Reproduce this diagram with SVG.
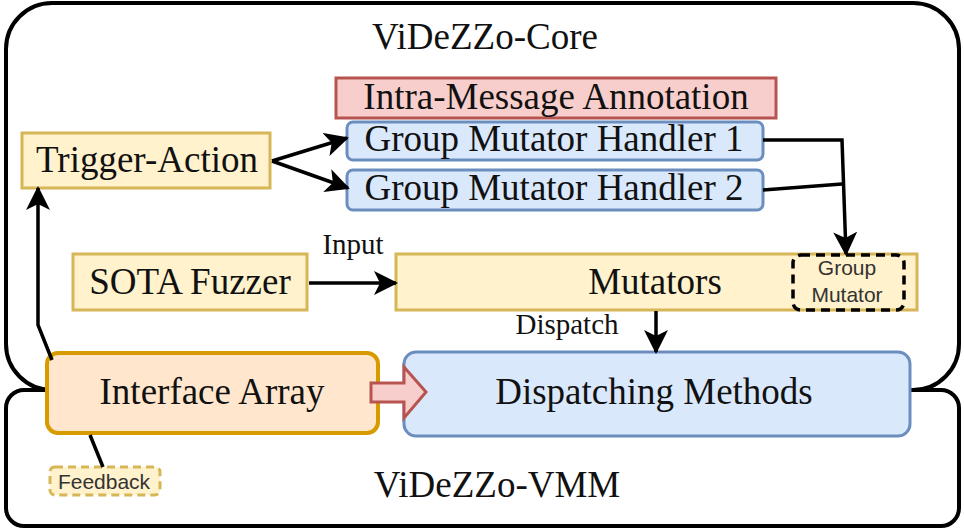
<svg xmlns="http://www.w3.org/2000/svg" width="964" height="530" viewBox="0 0 964 530">
  <style>
    .frame { fill: none; stroke: #000; stroke-width: 4; }
    .lbl { font-family: "Liberation Serif", "Times New Roman", serif; fill: #111; text-anchor: middle; }
    .big { font-size: 37px; }
    .small { font-size: 29px; }
    .sans { font-family: "Liberation Sans", Arial, sans-serif; font-size: 21px; fill: #333; text-anchor: middle; }
    .yellow { fill: #fff2cc; stroke: #d6b656; stroke-width: 3; }
    .blue { fill: #dae8fc; stroke: #6c8ebf; stroke-width: 3; }
    .red { fill: #f8cecc; stroke: #b85450; stroke-width: 3; }
    .orange { fill: #ffe6cc; stroke: #d79b00; stroke-width: 4; }
    .edge { fill: none; stroke: #000; stroke-width: 3.5; }
  </style>
  <defs>
    <marker id="head" viewBox="0 0 24 24" refX="22" refY="12" markerWidth="24" markerHeight="24" markerUnits="userSpaceOnUse" orient="auto">
      <path d="M0,0 L24,12 L0,24 L6,12 z" fill="#000"/>
    </marker>
  </defs>

  <rect width="964" height="530" fill="#fff"/>

  <!-- outer frames -->
  <g id="core-frame">
    <rect class="frame" x="6" y="3" width="953" height="387" rx="46"/>
    <text class="lbl big" x="485" y="49">ViDeZZo-Core</text>
  </g>
  <g id="vmm-frame">
    <rect class="frame" x="6" y="390" width="953" height="136" rx="18"/>
    <text class="lbl big" x="497" y="497">ViDeZZo-VMM</text>
  </g>

  <!-- nodes -->
  <g id="intra-message-annotation">
    <rect class="red" x="336" y="78" width="440" height="40"/>
    <text class="lbl big" x="556" y="109">Intra-Message Annotation</text>
  </g>
  <g id="handler-1">
    <rect class="blue" x="347" y="122" width="416" height="38" rx="6"/>
    <text class="lbl big" x="554" y="151">Group Mutator Handler 1</text>
  </g>
  <g id="handler-2">
    <rect class="blue" x="347" y="170" width="416" height="40" rx="6"/>
    <text class="lbl big" x="554" y="200">Group Mutator Handler 2</text>
  </g>
  <g id="trigger-action">
    <rect class="yellow" x="22" y="133" width="248" height="55"/>
    <text class="lbl big" x="147" y="172">Trigger-Action</text>
  </g>
  <g id="sota-fuzzer">
    <rect class="yellow" x="73" y="254" width="234" height="56"/>
    <text class="lbl big" x="190" y="294">SOTA Fuzzer</text>
  </g>
  <g id="mutators">
    <rect class="yellow" x="396" y="254" width="521" height="56"/>
    <text class="lbl big" x="655" y="294">Mutators</text>
  </g>
  <g id="group-mutator">
    <rect x="793" y="255" width="111" height="55" rx="8" fill="none" stroke="#000" stroke-width="3.5" stroke-dasharray="9,6"/>
    <text class="sans" x="847" y="275">Group</text>
    <text class="sans" x="847" y="302">Mutator</text>
  </g>
  <g id="interface-array">
    <rect class="orange" x="47" y="353" width="331" height="80" rx="11"/>
    <text class="lbl big" x="212" y="404">Interface Array</text>
  </g>
  <g id="dispatching-methods">
    <rect class="blue" x="404" y="352" width="506" height="84" rx="12" stroke-width="4"/>
    <text class="lbl big" x="654" y="404">Dispatching Methods</text>
  </g>
  <g id="feedback">
    <rect x="50" y="467" width="110" height="28" rx="5" fill="#fff2cc" stroke="#d6b656" stroke-width="3" stroke-dasharray="8,5"/>
    <text class="sans" x="104" y="489">Feedback</text>
  </g>

  <!-- connectors -->
  <g id="connectors">
    <path class="edge" d="M272,161 L347,138" marker-end="url(#head)"/>
    <path class="edge" d="M272,161 L348,188" marker-end="url(#head)"/>
    <path class="edge" d="M763,140 L842,140 L846,254" marker-end="url(#head)"/>
    <path class="edge" d="M763,190 L842,184"/>
    <path class="edge" d="M309,283 L396,283" marker-end="url(#head)"/>
    <text class="lbl small" x="353" y="254">Input</text>
    <path class="edge" d="M656,311 L656,352" marker-end="url(#head)"/>
    <text class="lbl small" x="567" y="334">Dispatch</text>
    <path class="edge" d="M52,360 L38,325 L38,188" marker-end="url(#head)"/>
    <path class="edge" d="M90,435 L103,467"/>
    <path d="M371,383 L404,383 L404,367 L426,392 L404,418 L404,402 L371,402 z" fill="#f8cecc" stroke="#b85450" stroke-width="3" stroke-linejoin="miter"/>
  </g>
</svg>
